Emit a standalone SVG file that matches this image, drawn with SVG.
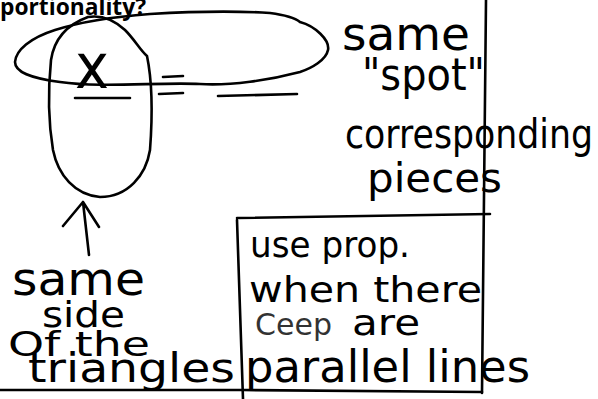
<svg xmlns="http://www.w3.org/2000/svg" width="598" height="399" viewBox="0 0 598 399">
<style>
.ink{fill:none;stroke:#000;stroke-width:2.6;stroke-linecap:round;stroke-linejoin:round}
.hw{font-family:"DejaVu Sans","Liberation Sans",sans-serif;fill:#000}
.ttl{font-family:"Open Sans","Liberation Sans",sans-serif;font-weight:bold;fill:#000}
</style>
<rect width="598" height="399" fill="#fff"/>
<g id="title"><text class="ttl" x="0" y="15" font-size="24" textLength="146" lengthAdjust="spacingAndGlyphs">portionality?</text></g>
<g id="connectors">
<path class="ink" d="M486,0 L482,393"/>
<path class="ink" d="M237,218 L490,214"/>
<path class="ink" d="M237,220 L243,399"/>
<path class="ink" d="M0,390 L243,390 L482,392"/>
<path class="ink" d="M89,255 L83,202 M63,226 L83,202 L99,227"/>
</g>
<g id="ellipse-h"><path class="ink" d="M300,22 C315,26 330,40 328,50 C326,60 312,68 300,72 C270,80 230,86 200,84 C160,82 100,88 60,82 C30,78 15,72 15,62 C16,50 30,38 55,30 C80,22 110,17 150,14 C200,11 240,11 270,13 C285,15 295,18 300,22"/></g>
<g id="ellipse-v"><path class="ink" d="M88,17 C100,15 112,18 125,30 C135,40 140,50 147,56 C152,80 153,110 150,150 C146,175 128,197 100,197 C75,195 58,175 53,150 C48,120 48,90 51,60 C54,40 66,25 88,17"/></g>
<g id="equation">
<text class="hw" x="75" y="88" font-size="62" textLength="34" lengthAdjust="spacingAndGlyphs">x</text>
<path class="ink" d="M75,98 L130,98 M163,77 L183,76 M159,94 L183,93 M218,96 L297,94"/>
</g>
<g id="note-spot">
<text class="hw" x="342" y="50" font-size="46" textLength="128" lengthAdjust="spacingAndGlyphs">same</text>
<text class="hw" x="362" y="90" font-size="44" textLength="123" lengthAdjust="spacingAndGlyphs">"spot"</text>
<text class="hw" x="345" y="148" font-size="40" textLength="248" lengthAdjust="spacingAndGlyphs">corresponding</text>
<text class="hw" x="367" y="192" font-size="40" textLength="135" lengthAdjust="spacingAndGlyphs">pieces</text>
</g>
<g id="note-side">
<text class="hw" x="12" y="295" font-size="46" textLength="133" lengthAdjust="spacingAndGlyphs">same</text>
<text class="hw" x="42" y="327" font-size="36" textLength="83" lengthAdjust="spacingAndGlyphs">side</text>
<text class="hw" x="8" y="356" font-size="33" textLength="142" lengthAdjust="spacingAndGlyphs">Of the</text>
<text class="hw" x="28" y="382" font-size="40" textLength="207" lengthAdjust="spacingAndGlyphs">triangles</text>
</g>
<g id="note-box">
<text class="hw" x="250" y="257" font-size="36" textLength="160" lengthAdjust="spacingAndGlyphs">use prop.</text>
<text class="hw" x="249" y="302" font-size="36" textLength="233" lengthAdjust="spacingAndGlyphs">when there</text>
<text class="hw" x="255" y="335" font-size="30" textLength="77" lengthAdjust="spacingAndGlyphs" opacity="0.8">Ceep</text>
<text class="hw" x="352" y="335" font-size="36" textLength="68" lengthAdjust="spacingAndGlyphs">are</text>
<text class="hw" x="245" y="382" font-size="44" textLength="285" lengthAdjust="spacingAndGlyphs">parallel lines</text>
</g>
</svg>
